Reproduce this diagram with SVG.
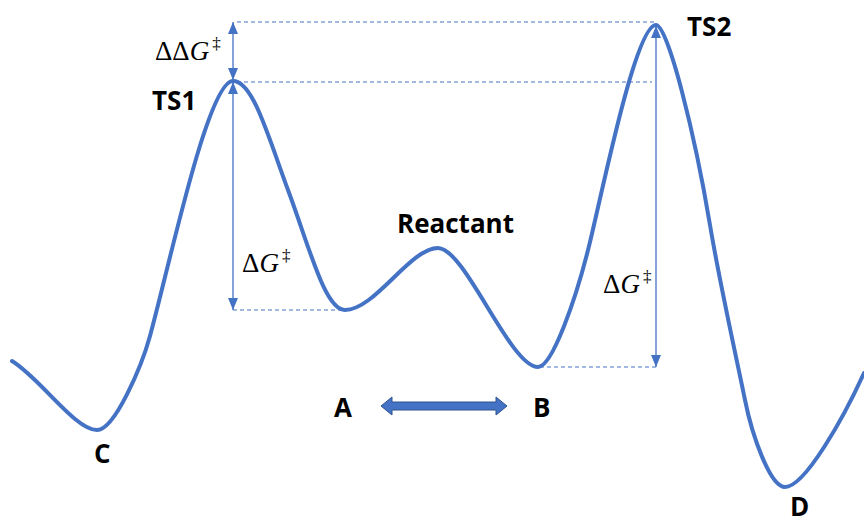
<svg xmlns="http://www.w3.org/2000/svg" width="864" height="524" viewBox="0 0 864 524">
<style>
.curve{fill:none;stroke:#4472C4;stroke-width:4;stroke-linecap:round;stroke-linejoin:round}
.dash{fill:none;stroke:#4472C4;stroke-width:1.1;stroke-dasharray:4 3}
.dim{fill:none;stroke:#4472C4;stroke-width:1.3}
.lbl{font-family:"Open Sans","Liberation Sans",sans-serif;font-weight:bold;font-size:26px;fill:#000}
.math{font-family:"Liberation Serif","DejaVu Serif",serif;font-size:27px;fill:#000}
.sup{font-size:17px}
</style>
<defs>
<marker id="ah" markerUnits="userSpaceOnUse" markerWidth="12" markerHeight="10" refX="12" refY="5" orient="auto-start-reverse">
<path d="M0,0 L12,5 L0,10 z" fill="#4472C4"/>
</marker>
</defs>
<rect width="864" height="524" fill="#fff"/>
<g id="connectors">
<path class="dash" d="M237,22 H656"/>
<path class="dash" d="M237,82 H652"/>
<path class="dash" d="M233,310 H345"/>
<path class="dash" d="M540,367 H656"/>
<path class="dim" d="M233,22 V80" marker-start="url(#ah)" marker-end="url(#ah)"/>
<path class="dim" d="M233,82 V310" marker-start="url(#ah)" marker-end="url(#ah)"/>
<path class="dim" d="M656,26 V367" marker-start="url(#ah)" marker-end="url(#ah)"/>
</g>
<g id="energy-curve">
<path class="curve" d="M12,361 C40,378 75,430 97,430 C115,430 142,365 150,336 C170,263 208,81 233,81 C253,81 268,136 288,190 C310,249 325,310 345,310 C375,310 410,248 438,248 C465,248 510,367 538,367 C552,367 576,300 590,242 C604,184 636,25 656,25 C668,25 695,135 710,225 C720,285 738,365 745,400 C752,435 770,487 785,487 C805,487 844,417 864,373"/>
</g>
<g id="TS1"><text class="lbl" x="152" y="110">TS1</text></g>
<g id="TS2"><text class="lbl" x="687" y="36">TS2</text></g>
<g id="Reactant"><text class="lbl" x="397" y="233">Reactant</text></g>
<g id="A"><text class="lbl" x="334" y="417">A</text></g>
<g id="B"><text class="lbl" x="533" y="417">B</text></g>
<g id="C"><text class="lbl" x="94" y="463">C</text></g>
<g id="D"><text class="lbl" x="790" y="516">D</text></g>
<g id="AB-arrow">
<path d="M381,406 L392,397 L392,402 L496,402 L496,397 L507,406 L496,415 L496,410 L392,410 L392,415 Z" fill="#4472C4" stroke="#2F528F" stroke-width="1"/>
</g>
<g id="ddG-label"><text class="math" x="155" y="60">ΔΔ<tspan font-style="italic">G</tspan><tspan class="sup" dx="3" dy="-11">‡</tspan></text></g>
<g id="dG1-label"><text class="math" x="242" y="272">Δ<tspan font-style="italic">G</tspan><tspan class="sup" dx="3" dy="-11">‡</tspan></text></g>
<g id="dG2-label"><text class="math" x="603" y="293">Δ<tspan font-style="italic">G</tspan><tspan class="sup" dx="3" dy="-11">‡</tspan></text></g>
</svg>
